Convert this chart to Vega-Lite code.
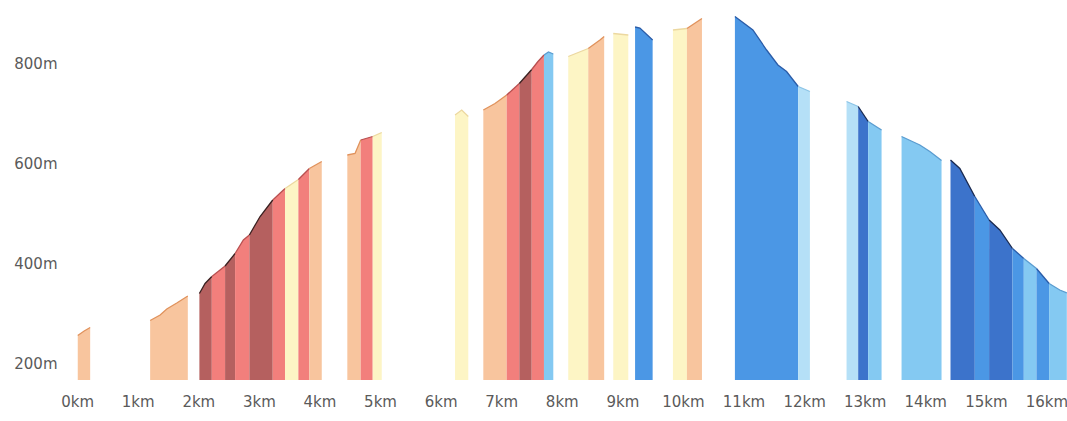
{
  "$schema": "https://vega.github.io/schema/vega-lite/v6.json",
  "width": 1005,
  "height": 380,
  "autosize": {"type": "none"},
  "padding": {"left": 62, "top": 0, "right": 0, "bottom": 41},
  "background": "white",
  "config": {
    "view": {"stroke": null},
    "axis": {"labelFont": "DejaVu Sans", "labelFontSize": 15, "labelColor": "#5a5a5a", "domain": false, "ticks": false, "tickSize": 0, "grid": false, "title": null, "labelOverlap": false, "labelFlush": false}
  },
  "data": {"values": [
    {"seg": 1, "grade": "p", "km": 0.01, "elev": 255}, {"seg": 1, "grade": "p", "km": 0.116, "elev": 264}, {"seg": 1, "grade": "p", "km": 0.215, "elev": 271},
    {"seg": 2, "grade": "p", "km": 1.205, "elev": 285}, {"seg": 2, "grade": "p", "km": 1.37, "elev": 296}, {"seg": 2, "grade": "p", "km": 1.48, "elev": 308}, {"seg": 2, "grade": "p", "km": 1.645, "elev": 320}, {"seg": 2, "grade": "p", "km": 1.827, "elev": 334},
    {"seg": 3, "grade": "dr", "km": 2.018, "elev": 339}, {"seg": 3, "grade": "dr", "km": 2.112, "elev": 359}, {"seg": 3, "grade": "dr", "km": 2.223, "elev": 373},
    {"seg": 4, "grade": "r", "km": 2.223, "elev": 373}, {"seg": 4, "grade": "r", "km": 2.442, "elev": 394},
    {"seg": 5, "grade": "dr", "km": 2.442, "elev": 394}, {"seg": 5, "grade": "dr", "km": 2.607, "elev": 419},
    {"seg": 6, "grade": "r", "km": 2.607, "elev": 419}, {"seg": 6, "grade": "r", "km": 2.744, "elev": 446}, {"seg": 6, "grade": "r", "km": 2.843, "elev": 456},
    {"seg": 7, "grade": "dr", "km": 2.843, "elev": 456}, {"seg": 7, "grade": "dr", "km": 3.02, "elev": 493}, {"seg": 7, "grade": "dr", "km": 3.229, "elev": 526},
    {"seg": 8, "grade": "r", "km": 3.229, "elev": 526}, {"seg": 8, "grade": "r", "km": 3.432, "elev": 549},
    {"seg": 9, "grade": "y", "km": 3.432, "elev": 549}, {"seg": 9, "grade": "y", "km": 3.652, "elev": 567},
    {"seg": 10, "grade": "r", "km": 3.652, "elev": 567}, {"seg": 10, "grade": "r", "km": 3.833, "elev": 589},
    {"seg": 11, "grade": "p", "km": 3.833, "elev": 589}, {"seg": 11, "grade": "p", "km": 4.038, "elev": 603},
    {"seg": 12, "grade": "p", "km": 4.46, "elev": 616}, {"seg": 12, "grade": "p", "km": 4.587, "elev": 619}, {"seg": 12, "grade": "p", "km": 4.681, "elev": 646},
    {"seg": 13, "grade": "r", "km": 4.681, "elev": 646}, {"seg": 13, "grade": "r", "km": 4.879, "elev": 653},
    {"seg": 14, "grade": "y", "km": 4.879, "elev": 653}, {"seg": 14, "grade": "y", "km": 5.028, "elev": 661},
    {"seg": 15, "grade": "y", "km": 6.238, "elev": 696}, {"seg": 15, "grade": "y", "km": 6.348, "elev": 706}, {"seg": 15, "grade": "y", "km": 6.457, "elev": 693},
    {"seg": 16, "grade": "p", "km": 6.705, "elev": 706}, {"seg": 16, "grade": "p", "km": 6.898, "elev": 719}, {"seg": 16, "grade": "p", "km": 7.091, "elev": 736},
    {"seg": 17, "grade": "r", "km": 7.091, "elev": 736}, {"seg": 17, "grade": "r", "km": 7.299, "elev": 759},
    {"seg": 18, "grade": "dr", "km": 7.299, "elev": 759}, {"seg": 18, "grade": "dr", "km": 7.504, "elev": 787},
    {"seg": 19, "grade": "r", "km": 7.504, "elev": 787}, {"seg": 19, "grade": "r", "km": 7.607, "elev": 803}, {"seg": 19, "grade": "r", "km": 7.706, "elev": 816},
    {"seg": 20, "grade": "s", "km": 7.706, "elev": 816}, {"seg": 20, "grade": "s", "km": 7.78, "elev": 822}, {"seg": 20, "grade": "s", "km": 7.86, "elev": 818},
    {"seg": 21, "grade": "y", "km": 8.107, "elev": 813}, {"seg": 21, "grade": "y", "km": 8.437, "elev": 829},
    {"seg": 22, "grade": "p", "km": 8.437, "elev": 829}, {"seg": 22, "grade": "p", "km": 8.63, "elev": 846}, {"seg": 22, "grade": "p", "km": 8.7, "elev": 853},
    {"seg": 23, "grade": "y", "km": 8.85, "elev": 859}, {"seg": 23, "grade": "y", "km": 9.098, "elev": 856},
    {"seg": 24, "grade": "m", "km": 9.21, "elev": 872}, {"seg": 24, "grade": "m", "km": 9.29, "elev": 870}, {"seg": 24, "grade": "m", "km": 9.5, "elev": 846},
    {"seg": 25, "grade": "y", "km": 9.835, "elev": 866}, {"seg": 25, "grade": "y", "km": 10.066, "elev": 869},
    {"seg": 26, "grade": "p", "km": 10.066, "elev": 869}, {"seg": 26, "grade": "p", "km": 10.314, "elev": 889},
    {"seg": 27, "grade": "m", "km": 10.858, "elev": 893}, {"seg": 27, "grade": "m", "km": 11.155, "elev": 866}, {"seg": 27, "grade": "m", "km": 11.381, "elev": 826}, {"seg": 27, "grade": "m", "km": 11.568, "elev": 796}, {"seg": 27, "grade": "m", "km": 11.711, "elev": 783}, {"seg": 27, "grade": "m", "km": 11.903, "elev": 753},
    {"seg": 28, "grade": "vl", "km": 11.903, "elev": 753}, {"seg": 28, "grade": "vl", "km": 12.096, "elev": 743},
    {"seg": 29, "grade": "vl", "km": 12.701, "elev": 723}, {"seg": 29, "grade": "vl", "km": 12.893, "elev": 713},
    {"seg": 30, "grade": "d", "km": 12.893, "elev": 713}, {"seg": 30, "grade": "d", "km": 13.058, "elev": 683},
    {"seg": 31, "grade": "s", "km": 13.058, "elev": 683}, {"seg": 31, "grade": "s", "km": 13.279, "elev": 666},
    {"seg": 32, "grade": "s", "km": 13.609, "elev": 653}, {"seg": 32, "grade": "s", "km": 13.911, "elev": 636}, {"seg": 32, "grade": "s", "km": 14.076, "elev": 623}, {"seg": 32, "grade": "s", "km": 14.269, "elev": 605},
    {"seg": 33, "grade": "d", "km": 14.417, "elev": 606}, {"seg": 33, "grade": "d", "km": 14.571, "elev": 589}, {"seg": 33, "grade": "d", "km": 14.818, "elev": 533},
    {"seg": 34, "grade": "m", "km": 14.818, "elev": 533}, {"seg": 34, "grade": "m", "km": 15.054, "elev": 486},
    {"seg": 35, "grade": "d", "km": 15.054, "elev": 486}, {"seg": 35, "grade": "d", "km": 15.231, "elev": 466}, {"seg": 35, "grade": "d", "km": 15.44, "elev": 429},
    {"seg": 36, "grade": "m", "km": 15.44, "elev": 429}, {"seg": 36, "grade": "m", "km": 15.627, "elev": 409},
    {"seg": 37, "grade": "s", "km": 15.627, "elev": 409}, {"seg": 37, "grade": "s", "km": 15.836, "elev": 389},
    {"seg": 38, "grade": "m", "km": 15.836, "elev": 389}, {"seg": 38, "grade": "m", "km": 16.045, "elev": 359},
    {"seg": 39, "grade": "s", "km": 16.045, "elev": 359}, {"seg": 39, "grade": "s", "km": 16.221, "elev": 346}, {"seg": 39, "grade": "s", "km": 16.337, "elev": 340}
  ]},
  "layer": [
    {
      "mark": {"type": "area", "interpolate": "linear"},
      "encoding": {
        "x": {"field": "km", "type": "quantitative", "scale": {"domain": [-0.25, 16.34], "nice": false, "zero": false},
              "axis": {"values": [0,1,2,3,4,5,6,7,8,9,10,11,12,13,14,15,16], "labelExpr": "datum.value + 'km'", "labelPadding": 14}},
        "y": {"field": "elev", "type": "quantitative", "stack": null, "scale": {"domain": [166, 926], "nice": false, "zero": false},
              "axis": {"values": [200, 400, 600, 800], "labelExpr": "datum.value + 'm'", "labelPadding": 5}},
        "y2": {"datum": 166},
        "color": {"field": "grade", "type": "nominal",
                  "scale": {"domain": ["dr", "r", "p", "y", "vl", "s", "m", "d"],
                            "range": ["#b5605f", "#f27f7c", "#f8c59e", "#fdf5c5", "#b5e0f7", "#84c9f2", "#4b97e5", "#3c73cb"]},
                  "legend": null},
        "detail": {"field": "seg", "type": "nominal"}
      }
    },
    {
      "mark": {"type": "line", "strokeWidth": 1.3, "interpolate": "linear"},
      "encoding": {
        "x": {"field": "km", "type": "quantitative"},
        "y": {"field": "elev", "type": "quantitative"},
        "color": {"field": "grade", "type": "nominal",
                  "scale": {"domain": ["dr", "r", "p", "y", "vl", "s", "m", "d"],
                            "range": ["#3a2020", "#b85050", "#e0925c", "#ecd8a0", "#8cc4e6", "#5a9cd0", "#2a5ca8", "#1a2a50"]},
                  "legend": null},
        "detail": {"field": "seg", "type": "nominal"}
      }
    }
  ],
  "resolve": {"scale": {"color": "independent"}}
}
